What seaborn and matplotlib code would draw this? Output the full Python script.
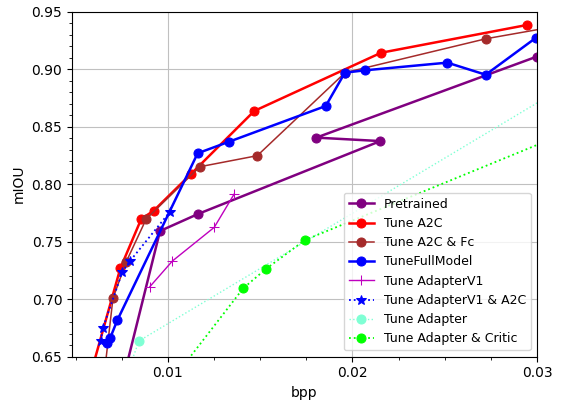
import matplotlib
matplotlib.use("Agg")
import matplotlib.pyplot as plt
import seaborn as sns
from matplotlib.ticker import MultipleLocator

# ---- data ----
pre_bpp  = [0.0071, 0.00957, 0.01163, 0.02151, 0.01804, 0.02998]
pre_miou = [0.600, 0.7593, 0.7741, 0.8375, 0.8405, 0.9109]

a2c_bpp  = [0.0052, 0.00742, 0.00855, 0.00923, 0.01125, 0.01468, 0.02155, 0.02944]
a2c_miou = [0.600, 0.7269, 0.7697, 0.7770, 0.8089, 0.8637, 0.9143, 0.9384]

a2cfc_bpp  = [0.0063, 0.00702, 0.00774, 0.00882, 0.01173, 0.01484, 0.01960, 0.02724, 0.0320]
a2cfc_miou = [0.600, 0.7008, 0.7326, 0.7697, 0.8152, 0.8248, 0.8970, 0.9265, 0.9400]

full_bpp  = [0.00669, 0.00687, 0.00725, 0.01161, 0.01332, 0.01855, 0.01959, 0.02066, 0.02514, 0.02722, 0.02995]
full_miou = [0.6615, 0.6663, 0.6815, 0.8269, 0.8370, 0.8680, 0.8970, 0.8990, 0.9057, 0.8952, 0.9274]

adv1_bpp  = [0.00902, 0.01024, 0.01251, 0.01359]
adv1_miou = [0.7109, 0.7332, 0.7625, 0.7915]

adv1a2c_bpp  = [0.00635, 0.00648, 0.00752, 0.00796, 0.01011]
adv1a2c_miou = [0.6639, 0.6752, 0.7234, 0.7335, 0.7761]

adapter_bpp  = [0.0070, 0.00843, 0.0340]
adapter_miou = [0.600, 0.6637, 0.9090]

critic_bpp  = [0.0088, 0.01408, 0.01531, 0.01743, 0.0350]
critic_miou = [0.600, 0.7095, 0.7263, 0.7515, 0.8670]

series = [
    ("Pretrained", pre_bpp, pre_miou, dict(color="purple", marker="o", linestyle="-", linewidth=1.8, markersize=6.5)),
    ("Tune A2C", a2c_bpp, a2c_miou, dict(color="red", marker="o", linestyle="-", linewidth=1.8, markersize=6.5)),
    ("Tune A2C & Fc", a2cfc_bpp, a2cfc_miou, dict(color="brown", marker="o", linestyle="-", linewidth=1.1, markersize=6.5)),
    ("TuneFullModel", full_bpp, full_miou, dict(color="blue", marker="o", linestyle="-", linewidth=1.8, markersize=6.5)),
    ("Tune AdapterV1", adv1_bpp, adv1_miou, dict(color="m", marker="+", linestyle="-", linewidth=1.0, markersize=7)),
    ("Tune AdapterV1 & A2C", adv1a2c_bpp, adv1a2c_miou, dict(color="blue", marker="*", linestyle=":", linewidth=1.3, markersize=7)),
    ("Tune Adapter", adapter_bpp, adapter_miou, dict(color="aquamarine", marker="o", linestyle=":", linewidth=1.0, markersize=6.5)),
    ("Tune Adapter & Critic", critic_bpp, critic_miou, dict(color="lime", marker="o", linestyle=":", linewidth=1.3, markersize=6.5)),
]

fig = plt.figure(figsize=(5.67, 4.0), dpi=100)
ax = fig.add_axes([72/567, 1-356.7/400, (537-72)/567, (356.7-11.7)/400])

for label, xs, ys, kw in series:
    sns.lineplot(x=xs, y=ys, sort=False, estimator=None, label=label, ax=ax,
                 markeredgecolor=kw["color"], **kw)

ax.set_xlim(0.0048, 0.030)
ax.set_ylim(0.65, 0.95)
ax.xaxis.set_major_locator(MultipleLocator(0.01))
ax.xaxis.set_minor_locator(MultipleLocator(0.0025))
ax.yaxis.set_major_locator(MultipleLocator(0.05))
ax.yaxis.set_minor_locator(MultipleLocator(0.01))
ax.grid(True, which="major", color="#c0c0c0", linewidth=0.8)
ax.set_axisbelow(True)
ax.set_xlabel("bpp")
ax.set_ylabel("mIOU")
ax.legend(loc="lower right", fontsize=9)

fig.savefig("out.png", dpi=100)
